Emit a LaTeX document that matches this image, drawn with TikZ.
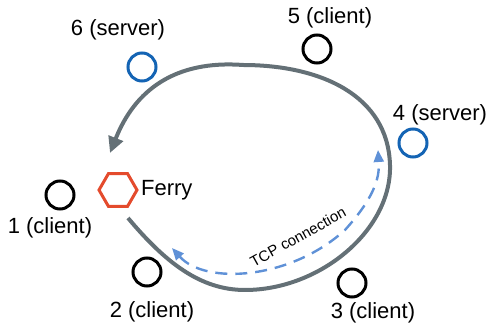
\documentclass[tikz,border=0pt]{standalone}
\usepackage{fontspec}
\setmainfont{Liberation Sans}
\usetikzlibrary{arrows.meta,shapes.geometric}

\definecolor{routegray}{RGB}{100,112,118}
\definecolor{serverblue}{RGB}{20,100,180}
\definecolor{linkblue}{RGB}{95,145,215}
\definecolor{ferryred}{RGB}{228,75,45}

\begin{document}
\begin{tikzpicture}[x=0.5pt,y=-0.5pt]
\tikzset{
  client/.style={circle,draw=black,line width=1.5pt,minimum size=14pt,inner sep=0pt},
  server/.style={client,draw=serverblue},
  ferrynode/.style={regular polygon,regular polygon sides=6,draw=ferryred,line width=1.5pt,minimum size=19pt,inner sep=0pt},
  nodelabel/.style={font=\fontsize{11}{13}\selectfont,inner sep=1pt},
  route/.style={draw=routegray,line width=2pt,-{Triangle[length=8pt,width=7.5pt]}},
  tcplink/.style={draw=linkblue,line width=1.2pt,dash pattern=on 6pt off 4pt,{Triangle[length=6pt,width=5pt]}-{Triangle[length=6pt,width=5pt]}}
}
\useasboundingbox (0,0) rectangle (489,331);
% stations
\node[client] (n_1) at (60,195) {};
\node[client] (n_2) at (147,272) {};
\node[client] (n_3) at (352,283) {};
\node[server] (n_4) at (413,143) {};
\node[client] (n_5) at (317,49) {};
\node[server] (n_6) at (142,67) {};
\node[ferrynode] (ferry) at (118,190) {};
% labels
\node[nodelabel] (l_1) at (50,228) {1 (client)};
\node[nodelabel] (l_2) at (152,312) {2 (client)};
\node[nodelabel] (l_3) at (373,313) {3 (client)};
\node[nodelabel] (l_4) at (440,115) {4 (server)};
\node[nodelabel] (l_5) at (330,18) {5 (client)};
\node[nodelabel] (l_6) at (118,30) {6 (server)};
\node[nodelabel,anchor=west] (l_ferry) at (ferry.east) {Ferry};
% ferry route
\coordinate (r_start) at (128,218);
\coordinate (r_end) at (110,153);
\draw[route] (r_start) .. controls (165,262) and (200,290) .. (245,290)
  .. controls (320,290) and (392,230) .. (390,165)
  .. controls (388,95) and (320,65) .. (243,65)
  .. controls (175,60) and (135,90) .. (r_end);
% tcp connection
\coordinate (t_start) at (172,248);
\coordinate (t_end) at (378,150);
\draw[tcplink] (t_start) .. controls (205,285) and (290,280) .. (345,230)
  .. controls (372,200) and (380,180) .. (t_end);
\node[font=\fontsize{7.5}{9}\selectfont,inner sep=0pt,rotate=29] (tcp) at (298,237) {TCP connection};
\end{tikzpicture}
\end{document}
